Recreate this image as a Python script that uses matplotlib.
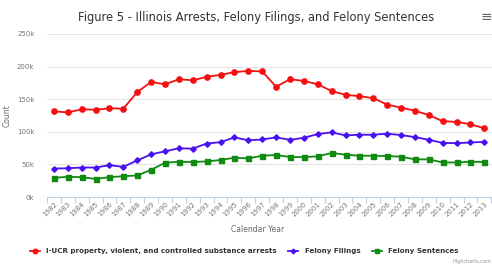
import matplotlib
matplotlib.use("Agg")
import matplotlib.pyplot as plt
import numpy as np

years = [str(y) for y in range(1982, 2014)]
arrests = [131.3, 129.8, 134.4, 133.9, 136.0, 135.5, 160.9, 176.5, 172.8, 180.6, 179.0,
           184.2, 187.4, 191.5, 193.4, 192.6, 169.2, 180.6, 178.0, 172.8, 162.5, 156.7,
           154.7, 151.6, 141.7, 137.0, 132.4, 125.6, 116.3, 115.2, 111.6, 105.4]
filings = [43.6, 44.1, 45.2, 45.2, 48.8, 46.2, 56.1, 65.4, 70.1, 74.7, 74.2, 82.0,
           84.1, 91.4, 87.0, 88.2, 91.4, 87.7, 90.8, 96.5, 99.1, 94.5, 95.5, 95.5,
           97.1, 95.0, 91.9, 87.7, 83.0, 82.5, 83.6, 84.6]
sentences = [29.4, 30.9, 30.4, 27.8, 30.4, 31.9, 33.0, 41.7, 52.5, 54.1, 53.6, 54.6,
             56.7, 60.3, 59.2, 63.3, 64.4, 61.3, 61.3, 62.3, 67.5, 64.9, 63.3, 63.3,
             62.8, 61.8, 57.7, 57.7, 53.0, 53.0, 54.1, 53.6]
yticks = [0, 50, 100, 150, 200, 250]
ytick_labels = ["0k", "50k", "100k", "150k", "200k", "250k"]
series_names = ["I-UCR property, violent, and controlled substance arrests",
                "Felony Filings", "Felony Sentences"]

W, H = 492, 268
fig = plt.figure(figsize=(W / 100, H / 100), dpi=100)
ax = fig.add_axes([47 / W, 1 - 197 / H, (W - 47) / W, (197 - 34) / H])

x = np.arange(len(years))
ax.plot(x, arrests, color="#f41010", lw=1.3, marker="o", ms=3.8, label=series_names[0], zorder=3)
ax.plot(x, filings, color="#4a10f0", lw=1.3, marker="D", ms=2.8, label=series_names[1], zorder=3)
ax.plot(x, sentences, color="#108a10", lw=1.3, marker="s", ms=3.6, label=series_names[2], zorder=3)

ax.set_xlim(-0.45, 31.55)
ax.set_ylim(0, 250)
ax.set_yticks(yticks)
ax.set_yticklabels(ytick_labels)
ax.set_xticks(x)
ax.set_xticklabels(years, rotation=45, ha="right", rotation_mode="anchor")
ax.tick_params(axis="x", length=0, labelsize=5, labelcolor="#777777", pad=3)
ax.set_xticks(np.arange(-0.5, 32, 1), minor=True)
ax.tick_params(axis="x", which="minor", length=4, color="#c0d0e0", width=0.8)
ax.tick_params(axis="y", length=0, labelsize=5, labelcolor="#777777", pad=9)
ax.grid(axis="y", color="#e4e4e4", lw=0.8)
ax.set_axisbelow(True)
for s in ["top", "right", "left"]:
    ax.spines[s].set_visible(False)
ax.spines["bottom"].set_color("#c0d0e0")
ax.spines["bottom"].set_linewidth(0.8)

ax.set_ylabel("Count", fontsize=5.5, color="#666666", labelpad=4)
fig.text(258 / W, 1 - 229 / H, "Calendar Year", fontsize=5.5, color="#666666", ha="center", va="center")

fig.text(256 / W, 1 - 17 / H, "Figure 5 - Illinois Arrests, Felony Filings, and Felony Sentences",
         fontsize=8.3, color="#333333", ha="center", va="center")
fig.text(486 / W, 1 - 17 / H, "\u2261", fontsize=10, color="#666666", ha="center", va="center")
fig.text(491 / W, 1 - 262 / H, "Highcharts.com", fontsize=3.5, color="#909090", ha="right", va="center")

leg = fig.legend(loc="center", bbox_to_anchor=(244 / W, 1 - 251 / H), ncol=3, frameon=False,
                 fontsize=5.15, handlelength=1.4, handletextpad=0.9, columnspacing=1.6,
                 markerscale=0.85)
for t in leg.get_texts():
    t.set_color("#333333")
    t.set_fontweight("bold")

fig.savefig("out.png", dpi=100)
